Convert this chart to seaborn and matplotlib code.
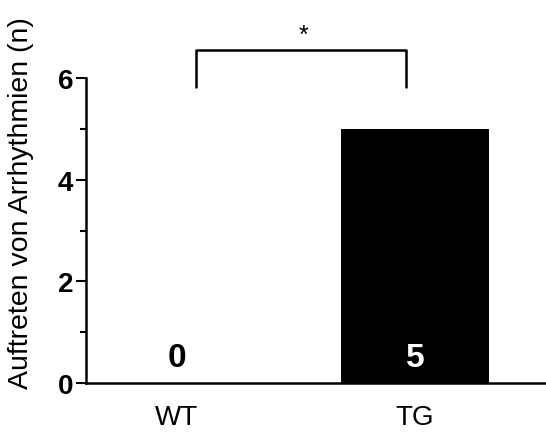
import matplotlib
matplotlib.use("Agg")
import matplotlib.pyplot as plt
import seaborn as sns
import pandas as pd

# Data
groups = ['WT', 'TG']
counts = [0, 5]
bar_colors = ['white', 'black']
label_colors = ['black', 'white']

df = pd.DataFrame({'group': groups, 'count': counts})

sns.set_style('ticks', {'text.color': 'black', 'axes.labelcolor': 'black',
                        'xtick.color': 'black', 'ytick.color': 'black',
                        'axes.edgecolor': 'black'})
plt.rcParams['font.family'] = ['Liberation Sans', 'DejaVu Sans']

fig = plt.figure(figsize=(5.46, 4.35), dpi=100)
ax = fig.add_axes([0.1575, 0.117, 0.8425, 0.701])

sns.barplot(data=df, x='group', y='count', hue='group', palette=bar_colors,
            width=0.62, legend=False, ax=ax, edgecolor='none', saturation=1)

ax.set_ylim(0, 6)
ax.set_xlim(-0.382, 1.55)
ax.set_yticks([0, 2, 4, 6])
ax.set_yticks([1, 3, 5], minor=True)
ax.tick_params(axis='y', which='major', length=7, width=1.5, labelsize=20, pad=2)
ax.tick_params(axis='y', which='minor', length=4, width=1.5)
ax.tick_params(axis='x', length=0, labelsize=20, pad=15)
for lbl in ax.get_yticklabels():
    lbl.set_fontweight('bold')
ax.set_xlabel('')
ax.set_ylabel('Auftreten von Arrhythmien (n)', fontsize=20.5)
ax.yaxis.set_label_coords(-0.112, 0.593)
sns.despine(ax=ax)
ax.spines['left'].set_linewidth(1.8)
ax.spines['bottom'].set_linewidth(1.8)

# value labels inside bars
for i, (v, c) in enumerate(zip(counts, label_colors)):
    ax.text(i, 0.5, str(v), ha='center', va='center', fontsize=24,
            fontweight='bold', color=c)

# significance bracket
bx = [0.08, 0.08, 0.96, 0.96]
by = [5.83, 6.55, 6.55, 5.83]
ax.plot(bx, by, color='black', lw=1.8, clip_on=False)
ax.text(0.53, 6.62, '*', ha='center', va='bottom', fontsize=18, clip_on=False)

fig.savefig('out.png', dpi=100)
